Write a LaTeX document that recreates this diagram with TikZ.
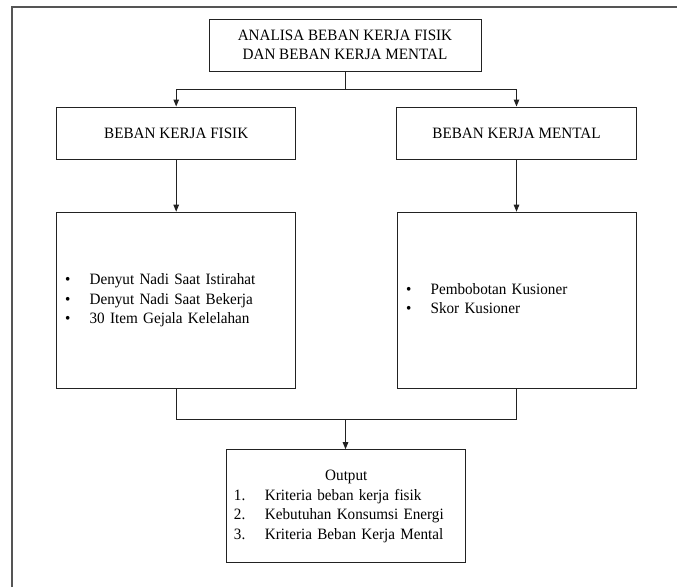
\documentclass[tikz,border=0pt]{standalone}
\usepackage{fontspec}
\setmainfont{Liberation Serif}[FakeStretch=0.96]
\usetikzlibrary{arrows.meta}
\definecolor{frame}{HTML}{555555}
\definecolor{ln}{HTML}{222222}
\tikzset{
  box/.style={draw=ln, line width=1pt, rectangle, inner sep=0pt,
    font=\fontsize{15.8}{19.4}\selectfont},
  conn/.style={draw=ln, line width=1pt},
  arr/.style={conn, -{Triangle[length=7pt,width=5.5pt]}},
}
\begin{document}
\begin{tikzpicture}[x=1pt,y=-1pt]
\useasboundingbox (0,0) rectangle (677,587);
\draw[frame, line width=1.6pt] (12,587) -- (12,7) -- (677,7);

\node[box, minimum width=272pt, minimum height=52pt, align=center] (top) at (345,45)
  {ANALISA BEBAN KERJA FISIK\\DAN BEBAN KERJA MENTAL};
\node[box, minimum width=239.2pt, minimum height=52pt] (fisik) at (176.2,133) {BEBAN KERJA FISIK};
\node[box, minimum width=239.2pt, minimum height=52pt] (mental) at (516.5,133) {BEBAN KERJA MENTAL};

\node[box, minimum height=176pt, text width=222.4pt, inner xsep=8.4pt, align=left] (bigl) at (176.2,300.2)
  {\begin{tabular}{@{}p{24.6pt}@{}l@{}}
   • & Denyut Nadi Saat Istirahat\\
   • & Denyut Nadi Saat Bekerja\\
   • & 30 Item Gejala Kelelahan
   \end{tabular}};
\node[box, minimum height=176pt, text width=221pt, inner xsep=9pt, align=left] (bigr) at (516.5,300.2)
  {\begin{tabular}{@{}p{24.6pt}@{}l@{}}
   • & Pembobotan Kusioner\\
   • & Skor Kusioner
   \end{tabular}};

\node[box, minimum height=113pt, text width=224.7pt, inner xsep=7.3pt, align=left] (out) at (346.3,506.2)
  {\begin{tabular}{@{}p{31pt}@{}p{193.7pt}@{}}
   \multicolumn{2}{@{}c@{}}{Output}\\
   1. & Kriteria beban kerja fisik\\
   2. & Kebutuhan Konsumsi Energi\\
   3. & Kriteria Beban Kerja Mental
   \end{tabular}};

\coordinate (split) at (345,89);
\coordinate (join) at (345.5,419);
\draw[conn] (top.south) -- (split);
\draw[arr] (split) -| (fisik.north);
\draw[arr] (split) -| (mental.north);
\draw[arr] (fisik.south) -- (bigl.north);
\draw[arr] (mental.south) -- (bigr.north);
\draw[conn] (bigl.south) |- (join);
\draw[conn] (bigr.south) |- (join);
\draw[arr] (join) -- (join |- out.north);
\end{tikzpicture}
\end{document}
